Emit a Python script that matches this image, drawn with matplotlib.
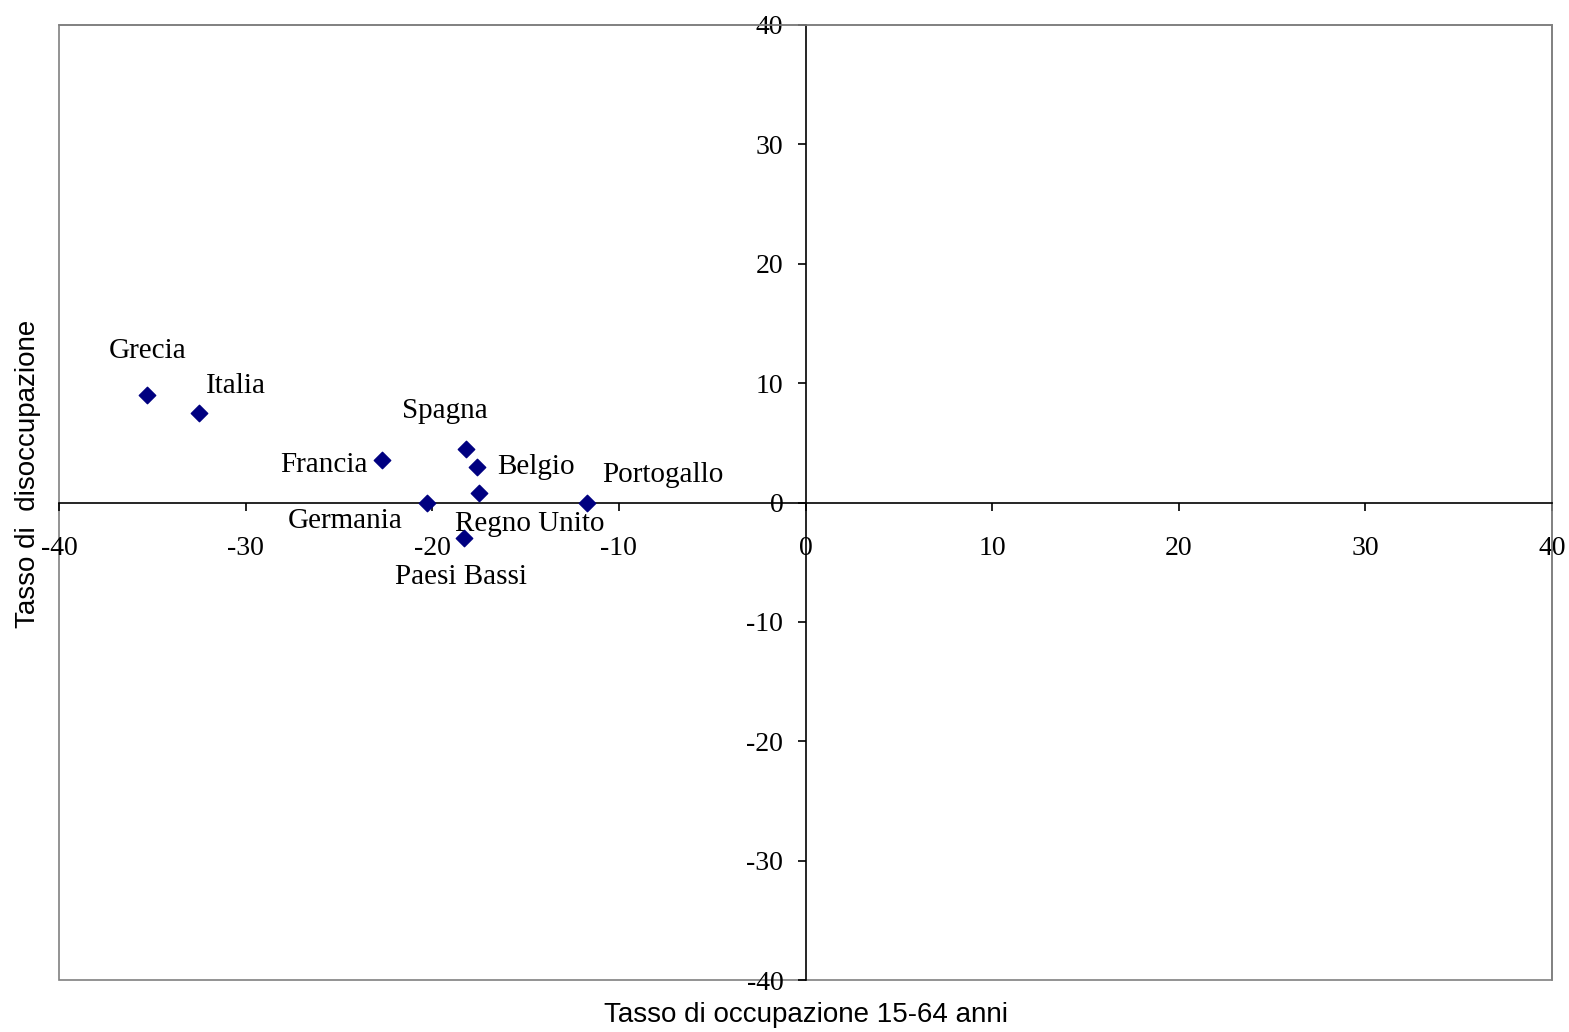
import matplotlib
matplotlib.use("Agg")
import matplotlib.pyplot as plt
from matplotlib.patches import Rectangle

# data
paesi = ["Grecia", "Italia", "Francia", "Spagna", "Belgio",
         "Regno Unito", "Germania", "Paesi Bassi", "Portogallo"]
occupazione = [-35.3, -32.5, -22.7, -18.2, -17.6, -17.5, -20.3, -18.3, -11.7]
disoccupazione = [9.0, 7.5, 3.6, 4.5, 3.0, 0.8, 0.0, -3.0, 0.0]
ticks = [-40, -30, -20, -10, 0, 10, 20, 30, 40]

# label offsets in pixels (dx, dy, ha)
offsets = {
    "Grecia": (1, 44, "center"),
    "Italia": (7, 27, "left"),
    "Francia": (-14, -5, "right"),
    "Spagna": (-21, 38, "center"),
    "Belgio": (20, 0, "left"),
    "Regno Unito": (-24, -31, "left"),
    "Germania": (-81, -19, "center"),
    "Paesi Bassi": (-3, -39, "center"),
    "Portogallo": (15, 27, "left"),
}

serif = "Liberation Serif"
sans = "Liberation Sans"

W, H = 1569, 1032
fig = plt.figure(figsize=(W / 100, H / 100), dpi=100)
ax = fig.add_axes([59 / W, 1 - 980 / H, (1552 - 59) / W, (980 - 25) / H])

ax.set_xlim(-40, 40)
ax.set_ylim(-40, 40)

ax.scatter(occupazione, disoccupazione, marker="D", s=70, color="#000080", zorder=3)

for p, x, y in zip(paesi, occupazione, disoccupazione):
    dx, dy, ha = offsets[p]
    ax.annotate(p, (x, y), xytext=(dx, dy), textcoords="offset pixels",
                ha=ha, va="center", fontsize=21, family=serif)

# axes through the origin
ax.spines["left"].set_position("zero")
ax.spines["bottom"].set_position("zero")
for s in ["left", "bottom"]:
    ax.spines[s].set_color("black")
    ax.spines[s].set_linewidth(1.2)
for s in ["top", "right"]:
    ax.spines[s].set_color("gray")
    ax.spines[s].set_linewidth(1.2)
ax.add_patch(Rectangle((0, 0), 1, 1, transform=ax.transAxes, fill=False,
                       edgecolor="gray", linewidth=1.2, clip_on=False, zorder=0))

ax.set_xticks(ticks)
ax.set_yticks(ticks)
ax.set_xticklabels([str(t) for t in ticks], family=serif, fontsize=20)
ax.set_yticklabels([str(t) for t in ticks], family=serif, fontsize=20)
ax.tick_params(axis="x", direction="out", length=6, width=1.2, pad=18)
ax.tick_params(axis="y", direction="out", length=6, width=1.2, pad=10)

fig.text((59 + 1552) / 2 / W, 1 - 1015 / H, "Tasso di occupazione 15-64 anni",
         ha="center", va="center", fontsize=20, family=sans)
fig.text(28 / W, 1 - 474 / H, "Tasso di  disoccupazione", rotation=90,
         ha="center", va="center", fontsize=20, family=sans)

fig.savefig("out.png", dpi=100)
